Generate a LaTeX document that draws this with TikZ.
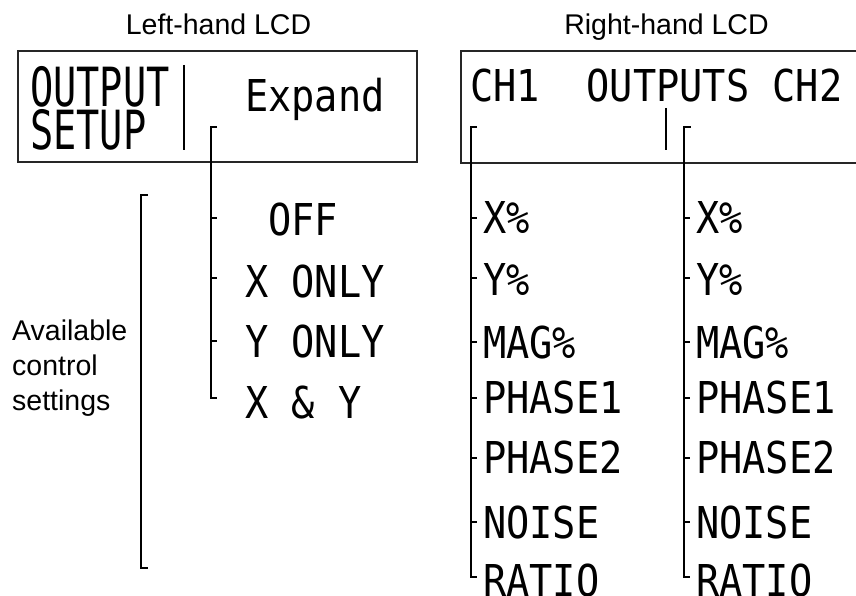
\documentclass[tikz,border=0pt]{standalone}
\usepackage{fontspec}
\setmainfont{Liberation Sans}
\newfontfamily\lcdfont[FakeStretch=0.88]{DejaVu Sans Mono}
\newfontfamily\lcdtallfont[FakeStretch=0.715]{DejaVu Sans Mono}
\begin{document}
\begin{tikzpicture}[x=1pt,y=-1pt,
  lbl/.style={font=\fontsize{28.5}{35}\selectfont, inner sep=0pt},
  lcd/.style={font=\lcdfont\fontsize{43.9}{44}\selectfont, inner sep=0pt, anchor=base west},
  bigtext/.style={font=\lcdtallfont\fontsize{54}{54}\selectfont, inner sep=0pt, anchor=base west, text depth=0pt, text height=40pt},
  frame/.style={line width=1.4pt, draw=black!85},
  brk/.style={line width=2pt},
  tick/.style={line width=1.6pt}]
\useasboundingbox (0,0) rectangle (856,596);
\clip (0,0) rectangle (856,596);

% titles
\node[lbl, anchor=base] (tl) at (218.5,35) {Left-hand LCD};
\node[lbl, anchor=base] (tr) at (666.5,35) {Right-hand LCD};

% left LCD
\draw[frame] (18,51) rectangle (417,162);
\node[bigtext] (out) at (30,107) {OUTPUT};
\node[bigtext] (setup) at (30,150) {SETUP};
\draw[brk] (184,65) -- (184,150);
\node[lcd] (expand) at (245,112) {Expand};

% left list
\node[lcd] (off) at (245,235) {~OFF};
\node[lcd] (xonly) at (245,297) {X~ONLY};
\node[lcd] (yonly) at (245,357) {Y~ONLY};
\node[lcd] (xy) at (245,418) {X~\&~Y};
\draw[brk] (217,127) -- (211,127) -- (211,398) -- (217,398);
\foreach \y in {218,278,341} \draw[tick] (211,\y) -- (217,\y);

% available settings bracket
\draw[brk] (148,195) -- (141,195) -- (141,568) -- (148,568);
\node[lbl, anchor=north west, align=left] (avail) at (12,320) {Available\\control\\settings};

% right LCD
\draw[frame] (870,51) -- (461,51) -- (461,163) -- (870,163);
\node[lcd] (chline) at (470,102) {CH1~~OUTPUTS~CH2};
\draw[brk] (666,108) -- (666,150);

% right lists
\foreach \bx/\tx/\n in {470.5/483/a,684/696/b}{
  \draw[brk] (\bx+6.5,127) -- (\bx,127) -- (\bx,577) -- (\bx+6,577);
  \foreach \y in {218,278,342,398,458,522} \draw[tick] (\bx,\y) -- (\bx+6,\y);
  \node[lcd] (x\n) at (\tx,233) {X\%};
  \node[lcd] (y\n) at (\tx,295) {Y\%};
  \node[lcd] (mag\n) at (\tx,358) {MAG\%};
  \node[lcd] (pa\n) at (\tx,413) {PHASE1};
  \node[lcd] (pb\n) at (\tx,473) {PHASE2};
  \node[lcd] (noise\n) at (\tx,538) {NOISE};
  \node[lcd] (ratio\n) at (\tx,596) {RATIO};
}
\end{tikzpicture}
\end{document}
